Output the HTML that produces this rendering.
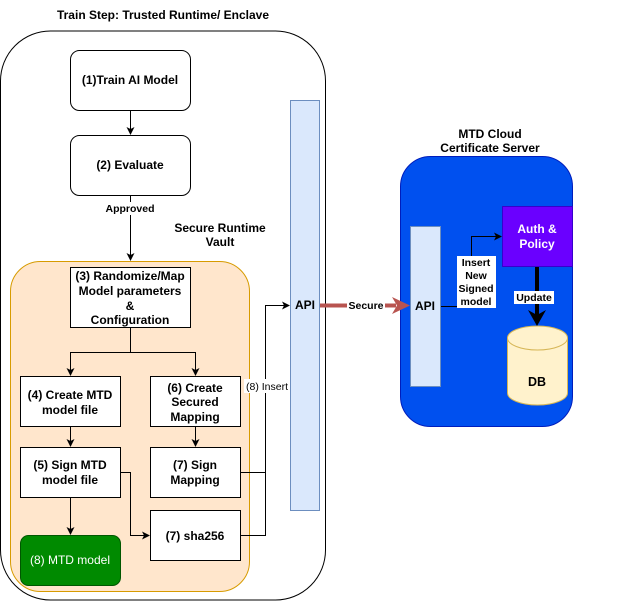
<!DOCTYPE html>
<html><head><style>
body{margin:0;width:621px;height:601px;background:#fff;overflow:hidden}
svg text{font-family:"Liberation Sans",Arial,sans-serif;font-size:12px;font-weight:bold;text-anchor:middle}
</style></head><body>
<svg width="621" height="601" viewBox="0 0 621 601" xmlns="http://www.w3.org/2000/svg">
<defs>
<marker id="a" markerWidth="8" markerHeight="8" refX="7" refY="4" orient="auto" markerUnits="userSpaceOnUse"><path d="M0,0 L8,4 L0,8 L2,4z" fill="#000"/></marker>
</defs>
<text x="163" y="19">Train Step: Trusted Runtime/ Enclave</text>
<rect x="0.5" y="31" width="325" height="569" rx="50" fill="#fff" stroke="#000"/>
<rect x="10.5" y="261.5" width="239" height="330" rx="30" fill="#ffe6cc" stroke="#d79b00"/>
<rect x="290.5" y="100.5" width="29" height="410" fill="#dae8fc" stroke="#6c8ebf"/>
<text x="305" y="309">API</text>
<rect x="70.5" y="50.5" width="120" height="60" rx="9" fill="#fff" stroke="#000"/>
<text x="130" y="84">(1)Train AI Model</text>
<rect x="70.5" y="135.5" width="120" height="60" rx="9" fill="#fff" stroke="#000"/>
<text x="130" y="169">(2) Evaluate</text>
<line x1="130.5" y1="111" x2="130.5" y2="134" stroke="#000" marker-end="url(#a)"/>
<line x1="130.5" y1="196" x2="130.5" y2="260" stroke="#000" marker-end="url(#a)"/>
<rect x="102" y="202" width="58" height="13" fill="#fff"/>
<text x="130" y="212" style="font-size:10.5px">Approved</text>
<text x="220" y="232">Secure Runtime</text>
<text x="220" y="246">Vault</text>
<rect x="70.5" y="267.5" width="120" height="60" fill="#fff" stroke="#000"/>
<text x="130" y="280">(3) Randomize/Map</text>
<text x="130" y="295">Model parameters</text>
<text x="130" y="310">&amp;</text>
<text x="130" y="324">Configuration</text>
<polyline points="130.5,328 130.5,352.5 70.5,352.5 70.5,375" fill="none" stroke="#000" marker-end="url(#a)"/>
<polyline points="130.5,352.5 195.5,352.5 195.5,375" fill="none" stroke="#000" marker-end="url(#a)"/>
<rect x="20.5" y="376.5" width="100" height="50" fill="#fff" stroke="#000"/>
<text x="70" y="399">(4) Create MTD</text>
<text x="70" y="414">model file</text>
<rect x="150.5" y="376.5" width="90" height="50" fill="#fff" stroke="#000"/>
<text x="195" y="392">(6) Create</text>
<text x="195" y="406">Secured</text>
<text x="195" y="421">Mapping</text>
<line x1="70.5" y1="427" x2="70.5" y2="446" stroke="#000" marker-end="url(#a)"/>
<line x1="195.5" y1="427" x2="195.5" y2="446" stroke="#000" marker-end="url(#a)"/>
<rect x="20.5" y="447.5" width="100" height="50" fill="#fff" stroke="#000"/>
<text x="70" y="469">(5) Sign MTD</text>
<text x="70" y="484">model file</text>
<rect x="150.5" y="447.5" width="90" height="50" fill="#fff" stroke="#000"/>
<text x="195" y="469">(7) Sign</text>
<text x="195" y="484">Mapping</text>
<rect x="150.5" y="510.5" width="90" height="50" fill="#fff" stroke="#000"/>
<text x="195" y="540">(7) sha256</text>
<rect x="20.5" y="535.5" width="100" height="50" rx="8" fill="#008a00" stroke="#005700"/>
<text x="70" y="564" fill="#fff" style="font-weight:normal;font-size:12px">(8) MTD model</text>
<line x1="70.5" y1="498" x2="70.5" y2="534" stroke="#000" marker-end="url(#a)"/>
<polyline points="121,472.5 130.5,472.5 130.5,535.5 149,535.5" fill="none" stroke="#000" marker-end="url(#a)"/>
<polyline points="241,472.5 265.5,472.5" fill="none" stroke="#000"/>
<polyline points="241,535.5 265.5,535.5 265.5,305.5 289,305.5" fill="none" stroke="#000" marker-end="url(#a)"/>
<rect x="244" y="379" width="46" height="14" fill="#fff"/>
<text x="267" y="390" style="font-weight:normal;font-size:10.5px">(8) Insert</text>
<text x="490" y="138">MTD Cloud</text>
<text x="490" y="152">Certificate Server</text>
<rect x="400.5" y="156.5" width="172" height="270" rx="30" fill="#0050ef" stroke="#001dbc"/>
<rect x="410.5" y="226.5" width="30" height="160" fill="#dae8fc" stroke="#6c8ebf"/>
<text x="425" y="310">API</text>
<line x1="320" y1="305.5" x2="396" y2="305.5" stroke="#b85450" stroke-width="4"/>
<path d="M392,297 L410,305.5 L392,314 L397,305.5z" fill="#b85450"/>
<rect x="347" y="299" width="38" height="13" fill="#fff"/>
<text x="366" y="309" style="font-size:10.5px">Secure</text>
<rect x="502.5" y="206.5" width="70" height="60" fill="#6a00ff" stroke="#3700cc"/>
<text x="537" y="233" fill="#fff">Auth &amp;</text>
<text x="537" y="248" fill="#fff">Policy</text>
<polyline points="441,306.5 471.5,306.5 471.5,236.5 501,236.5" fill="none" stroke="#000" marker-end="url(#a)"/>
<rect x="457" y="256" width="39" height="52" fill="#fff"/>
<text x="476" y="266" style="font-size:10.5px">Insert</text>
<text x="476" y="279" style="font-size:10.5px">New</text>
<text x="476" y="292" style="font-size:10.5px">Signed</text>
<text x="476" y="305" style="font-size:10.5px">model</text>
<path d="M507.5,338 L507.5,393 A30,12 0 0 0 567.5,393 L567.5,338 A30,12 0 0 0 507.5,338 A30,12 0 0 0 567.5,338" fill="#fff2cc" stroke="#d6b656"/>
<text x="537" y="386" style="font-size:12.5px">DB</text>
<line x1="537" y1="267" x2="537" y2="316" stroke="#000" stroke-width="4"/>
<path d="M528,310 L537,326 L546,310 L537,315z" fill="#000"/>
<rect x="514" y="291" width="40" height="13" fill="#fff"/>
<text x="534" y="301" style="font-size:10.5px">Update</text>
</svg>
</body></html>
